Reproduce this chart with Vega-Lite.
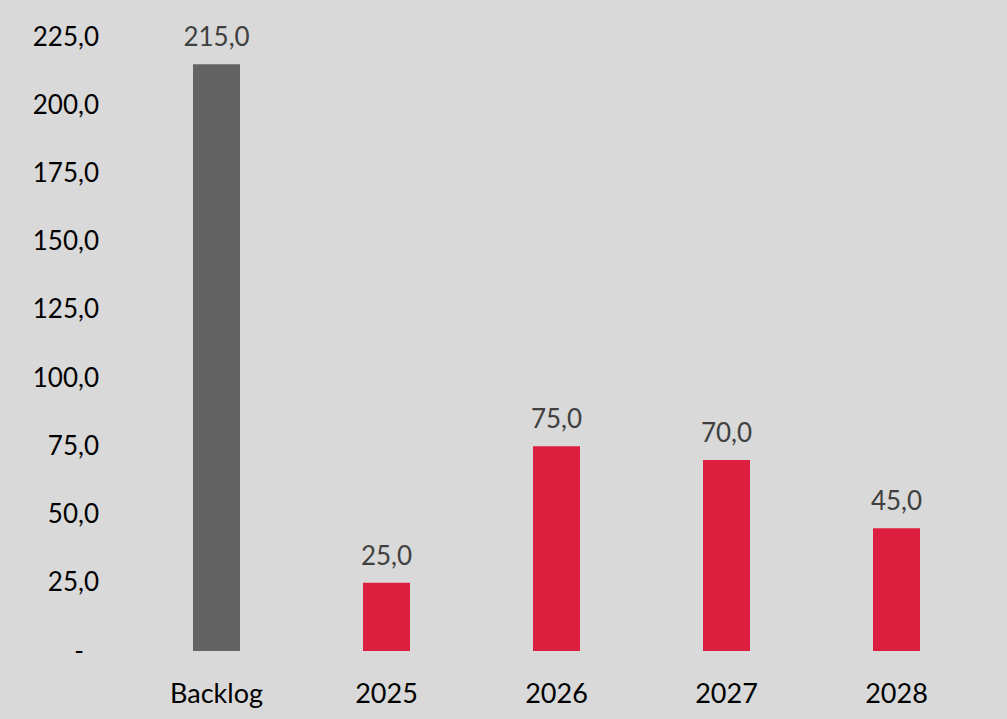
{
  "$schema": "https://vega.github.io/schema/vega-lite/v6.json",
  "autosize": {"type": "none"},
  "width": 850,
  "height": 614,
  "padding": {"left": 131.5, "top": 37, "right": 25.5, "bottom": 68},
  "background": "#d9d9d9",
  "config": {
    "view": {"stroke": null},
    "font": "Lato",
    "locale": {"number": {"decimal": ",", "thousands": ".", "grouping": [3], "currency": ["", " €"]}}
  },
  "data": {"values": [
    {"category": "Backlog", "value": 215, "kind": "backlog"},
    {"category": "2025", "value": 25, "kind": "year"},
    {"category": "2026", "value": 75, "kind": "year"},
    {"category": "2027", "value": 70, "kind": "year"},
    {"category": "2028", "value": 45, "kind": "year"}
  ]},
  "encoding": {
    "x": {
      "field": "category", "type": "nominal", "sort": null,
      "scale": {"paddingInner": 0.7235, "paddingOuter": 0.36175},
      "axis": {"title": null, "ticks": false, "domain": false, "labelAngle": 0,
        "labelFont": "Lato", "labelFontSize": 27, "labelColor": "#000000",
        "labelBaseline": "alphabetic", "labelPadding": 51}
    },
    "y": {
      "field": "value", "type": "quantitative",
      "scale": {"domain": [0, 225], "nice": false},
      "axis": {"title": null, "ticks": false, "domain": false, "grid": false,
        "values": [0, 25, 50, 75, 100, 125, 150, 175, 200, 225],
        "labelExpr": "datum.value == 0 ? '-' : format(datum.value, '.1f')",
        "labelFont": "Lato", "labelFontSize": 26, "labelColor": "#000000",
        "labelPadding": {"condition": {"test": "datum.value == 0", "value": 48}, "value": 33}}
    }
  },
  "layer": [
    {
      "mark": {"type": "bar"},
      "encoding": {
        "color": {"field": "kind", "type": "nominal",
          "scale": {"domain": ["backlog", "year"], "range": ["#636363", "#dc1f3e"]},
          "legend": null}
      }
    },
    {
      "mark": {"type": "text", "baseline": "alphabetic", "dy": -18, "font": "Lato", "fontSize": 26, "color": "#404040"},
      "encoding": {
        "text": {"field": "value", "type": "quantitative", "format": ".1f"}
      }
    }
  ]
}
